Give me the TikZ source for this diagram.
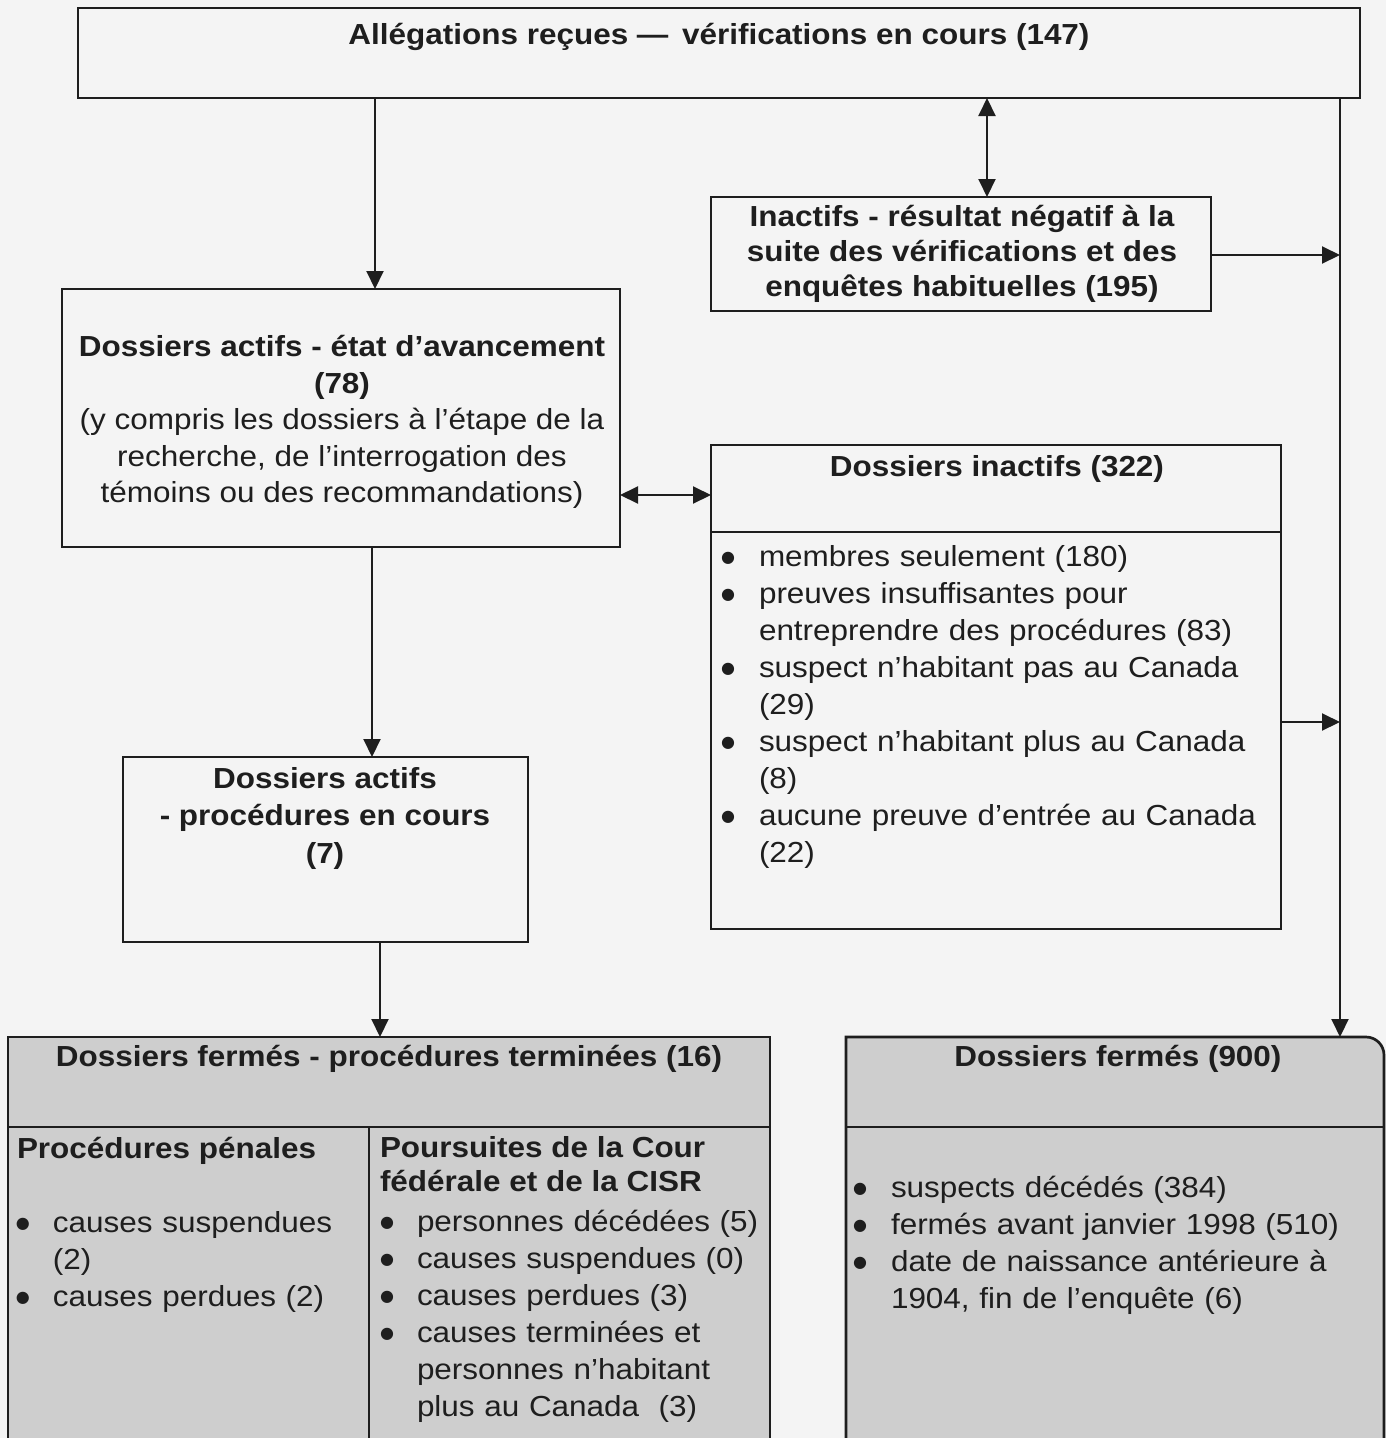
\documentclass[tikz,border=0pt]{standalone}
\usepackage{fontspec}
\setmainfont{Liberation Sans}[FakeStretch=1.085]
\newfontfamily\dotfont{DejaVu Sans}
\usetikzlibrary{arrows.meta}
\definecolor{ink}{RGB}{30,30,30}
\definecolor{paper}{RGB}{244,244,244}
\definecolor{shade}{RGB}{206,206,206}
\newcommand{\bdot}{\raisebox{4.5pt}{\dotfont\fontsize{16}{16}\selectfont ●}}
\newcommand{\bitem}[2]{\noindent\hangindent=#1\hangafter=1\strut\makebox[#1][l]{\bdot}#2\par}
\begin{document}
\begin{tikzpicture}[x=1pt,y=-1pt,
  box/.style={draw=ink, line width=2.7pt, inner sep=0pt, outer sep=0pt, anchor=north west},
  conn/.style={draw=ink, line width=2pt, -{Triangle[length=18pt,width=17pt]}},
  dconn/.style={draw=ink, line width=2pt, {Triangle[length=18pt,width=17pt]}-{Triangle[length=18pt,width=17pt]}},
  txt/.style={text=ink, inner sep=0pt, outer sep=0pt, anchor=north, align=center,
    font=\fontsize{29}{36.5}\selectfont},
  btxt/.style={txt, font=\fontsize{29}{36.5}\selectfont\bfseries},
  list/.style={text=ink, inner sep=0pt, outer sep=0pt, anchor=north west, align=left,
    text width=#1, font=\fontsize{29}{37}\selectfont},
  divider/.style={draw=ink, line width=2.7pt}
]
\useasboundingbox (0,0) rectangle (1386,1438);
\clip (0,0) rectangle (1386,1438);
\fill[paper] (0,0) rectangle (1386,1438);

% boxes
\node[box, minimum width=1282pt, minimum height=90pt] (top) at (78,8) {};
\node[box, minimum width=500pt, minimum height=114pt] (neg) at (711,197) {};
\node[box, minimum width=558pt, minimum height=258pt] (actif) at (62,289) {};
\node[box, minimum width=570pt, minimum height=484pt] (inact) at (711,445) {};
\node[box, minimum width=405pt, minimum height=185pt] (proc) at (123,757) {};
\node[box, fill=shade, minimum width=762pt, minimum height=430pt] (closedL) at (8,1037) {};
\node[anchor=north west, inner sep=0pt, outer sep=0pt, minimum width=538pt, minimum height=430pt] (closedR) at (846,1037) {};
\filldraw[fill=shade, draw=ink, line width=2.7pt]
  (closedR.south west) -- (closedR.north west) -- ([xshift=-18pt]closedR.north east)
  arc[start angle=90, end angle=0, radius=18pt] -- (closedR.south east);

% dividers
\coordinate (yI) at (0,532);
\coordinate (yH) at (0,1127);
\coordinate (xV) at (369,0);
\draw[divider] (inact.west |- yI) -- (inact.east |- yI);
\draw[divider] (closedL.west |- yH) -- (closedL.east |- yH);
\draw[divider] (xV |- yH) -- (xV |- closedL.south);
\draw[divider] (closedR.west |- yH) -- (closedR.east |- yH);

% texts
\node[btxt] (tTop) at (719,19) {\strut Allégations reçues —\, vérifications en cours (147)};
\node[btxt, font=\fontsize{29}{35}\selectfont\bfseries] (tNeg) at (962,202) {\strut Inactifs - résultat négatif à la\\\strut suite des vérifications et des\\\strut enquêtes habituelles (195)};
\node[txt] (tActif) at (342,331) {\strut\textbf{Dossiers actifs - état d’avancement}\\\strut\textbf{(78)}\\\strut (y compris les dossiers à l’étape de la\\\strut recherche, de l’interrogation des\\\strut témoins ou des recommandations)};
\node[btxt] (tInact) at (997,451) {\strut Dossiers inactifs (322)};
\node[list=560pt] (lInact) at (721,541) {%
  \bitem{38pt}{membres seulement (180)}%
  \bitem{38pt}{preuves insuffisantes pour\newline entreprendre des procédures (83)}%
  \bitem{38pt}{suspect n’habitant pas au Canada\newline (29)}%
  \bitem{38pt}{suspect n’habitant plus au Canada\newline (8)}%
  \bitem{38pt}{aucune preuve d’entrée au Canada\newline (22)}};
\node[btxt, font=\fontsize{29}{37.5}\selectfont\bfseries] (tProc) at (325,762) {\strut Dossiers actifs\\\strut - procédures en cours\\\strut (7)};
\node[btxt] (tClosedL) at (389,1041) {\strut Dossiers fermés - procédures terminées (16)};
\node[btxt] (tClosedR) at (1118,1041) {\strut Dossiers fermés (900)};
\node[btxt, anchor=north west] (tPen) at (17,1133) {\strut Procédures pénales};
\node[list=340pt] (lPen) at (16,1207) {%
  \bitem{37pt}{causes suspendues\newline (2)}%
  \bitem{37pt}{causes perdues (2)}};
\node[btxt, anchor=north west, align=left, font=\fontsize{29}{34}\selectfont\bfseries] (tCour) at (380,1134) {\strut Poursuites de la Cour\\\strut fédérale et de la CISR};
\node[list=390pt] (lCour) at (380,1206) {%
  \bitem{37pt}{personnes décédées (5)}%
  \bitem{37pt}{causes suspendues (0)}%
  \bitem{37pt}{causes perdues (3)}%
  \bitem{37pt}{causes terminées et\newline personnes n’habitant\newline plus au Canada~~(3)}};
\node[list=520pt] (lClosedR) at (853,1172) {%
  \bitem{38pt}{suspects décédés (384)}%
  \bitem{38pt}{fermés avant janvier 1998 (510)}%
  \bitem{38pt}{date de naissance antérieure à\newline 1904, fin de l’enquête (6)}};

% connectors
\coordinate (xA) at (375,0);
\coordinate (xB) at (987,0);
\coordinate (rail) at (1340,0);
\coordinate (yC) at (0,255);
\coordinate (yD) at (0,495);
\coordinate (yE) at (0,722);
\coordinate (xF) at (372,0);
\coordinate (xG) at (380,0);
\draw[conn] (top.south -| xA) -- (actif.north -| xA);
\draw[dconn] (top.south -| xB) -- (neg.north -| xB);
\draw[conn] (top.south -| rail) -- (closedR.north -| rail);
\draw[conn] (neg.east |- yC) -- (rail |- yC);
\draw[dconn] (actif.east |- yD) -- (inact.west |- yD);
\draw[conn] (inact.east |- yE) -- (rail |- yE);
\draw[conn] (actif.south -| xF) -- (proc.north -| xF);
\draw[conn] (proc.south -| xG) -- (closedL.north -| xG);
\end{tikzpicture}
\end{document}
